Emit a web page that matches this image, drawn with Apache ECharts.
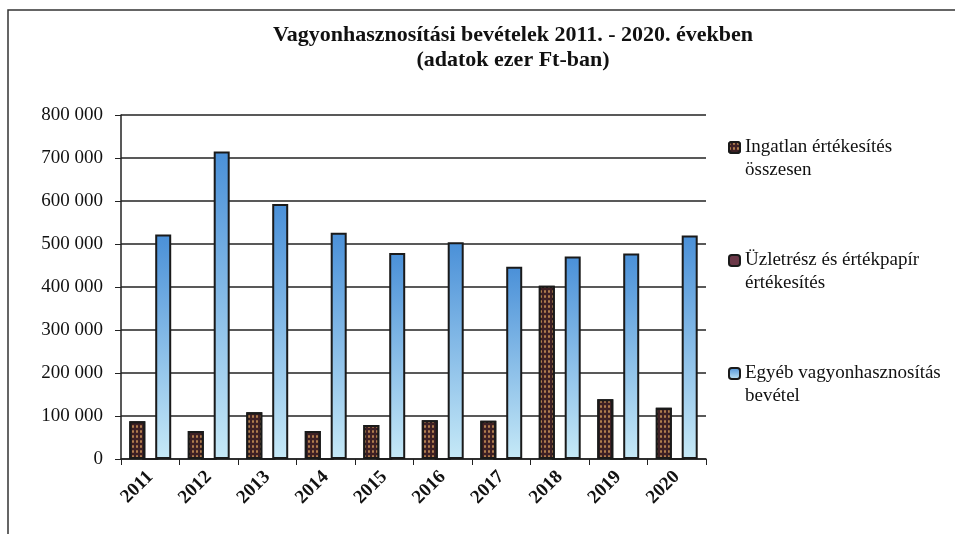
<!DOCTYPE html>
<html>
<head>
<meta charset="utf-8">
<script src="https://cdn.jsdelivr.net/npm/echarts@6/dist/echarts.min.js"></script>
<style>
  html, body { margin: 0; padding: 0; background: #fff; }
  #chart { width: 955px; height: 534px; }
</style>
</head>
<body>
<div id="chart"></div>
<script>
  // évek
  var years = ['2011', '2012', '2013', '2014', '2015', '2016', '2017', '2018', '2019', '2020']
  // ezer Ft
  var ingatlan = [88000, 65000, 109000, 65000, 79000, 90000, 89000, 403000, 139000, 119000]
  var uzletresz = [0, 0, 0, 0, 0, 0, 0, 0, 0, 0]
  var egyeb = [522000, 715000, 593000, 526000, 479000, 504000, 447000, 471000, 478000, 520000]
  var yTicks = [0, 100000, 200000, 300000, 400000, 500000, 600000, 700000, 800000]

  var serif = 'Liberation Serif, Times New Roman, serif'

  function fmt (v) {
    if (v === 0) return '0'
    var s = String(v)
    return s.slice(0, s.length - 3) + ' ' + s.slice(-3)
  }

  var chart = echarts.init(document.getElementById('chart'))
  var option = {
    backgroundColor: '#fff',
    animation: false,
    title: {
      text: 'Vagyonhasznosítási bevételek 2011. - 2020. években\n(adatok ezer Ft-ban)',
      left: 508,
      top: 18,
      textAlign: 'center',
      textStyle: {
        fontFamily: serif,
        fontWeight: 'bold',
        fontSize: 22,
        lineHeight: 25,
        color: '#111'
      }
    },
    graphic: [{
      type: 'rect',
      shape: { x: 8, y: 10, width: 960, height: 540 },
      style: { fill: 'none', stroke: '#333', lineWidth: 1.5 },
      silent: true
    }],
    legend: {
      orient: 'vertical',
      left: 728,
      top: 113,
      padding: 0,
      itemGap: 44,
      itemWidth: 11,
      itemHeight: 11,
      textStyle: {
        fontFamily: serif,
        fontSize: 19,
        lineHeight: 23,
        color: '#111'
      },
      // üres első sor, hogy az ikon az első szövegsorhoz igazodjon
      formatter: function (name) {
        var map = {
          'Ingatlan értékesítés összesen': ' \nIngatlan értékesítés\nösszesen',
          'Üzletrész és értékpapír értékesítés': ' \nÜzletrész és értékpapír\nértékesítés',
          'Egyéb vagyonhasznosítás bevétel': ' \nEgyéb vagyonhasznosítás\nbevétel'
        }
        return map[name] || name
      }
    },
    grid: {
      left: 121,
      right: 249,
      top: 115,
      bottom: 75
    },
    xAxis: {
      type: 'category',
      data: years,
      axisLine: { show: true, lineStyle: { color: '#222', width: 1.5 } },
      axisTick: { show: true, interval: 0, length: 6, lineStyle: { color: '#222' } },
      axisLabel: {
        interval: 0,
        rotate: 45,
        margin: 15,
        fontFamily: serif,
        fontWeight: 'bold',
        fontSize: 19,
        color: '#111'
      }
    },
    yAxis: {
      type: 'value',
      min: 0,
      max: 800000,
      interval: 100000,
      axisLine: { show: true, lineStyle: { color: '#222', width: 1.5 } },
      axisTick: { show: true, length: 6, lineStyle: { color: '#222' } },
      axisLabel: {
        margin: 18,
        fontFamily: serif,
        fontSize: 19,
        color: '#111',
        formatter: function (v) { return yTicks.indexOf(v) >= 0 ? fmt(v) : '' }
      },
      splitLine: { show: true, lineStyle: { color: '#222', width: 1.5 } }
    },
    series: [
      {
        name: 'Ingatlan értékesítés összesen',
        type: 'bar',
        data: ingatlan,
        barWidth: 16,
        barGap: '-19%',
        itemStyle: {
          color: '#3e2024',
          borderColor: '#1a1a1a',
          borderWidth: 2,
          decal: {
            symbol: 'rect',
            symbolSize: 0.8,
            color: 'rgba(232,170,100,0.85)',
            dashArrayX: [[2, 2]],
            dashArrayY: [3, 2],
            rotation: 0
          }
        }
      },
      {
        name: 'Üzletrész és értékpapír értékesítés',
        type: 'bar',
        data: uzletresz,
        barWidth: 16,
        barGap: '-19%',
        itemStyle: {
          color: '#6b3848',
          borderColor: '#1a1a1a',
          borderWidth: 1.5
        }
      },
      {
        name: 'Egyéb vagyonhasznosítás bevétel',
        type: 'bar',
        data: egyeb,
        barWidth: 16,
        barGap: '-19%',
        itemStyle: {
          color: new echarts.graphic.LinearGradient(0, 0, 0, 1, [
            { offset: 0, color: '#4a90d8' },
            { offset: 1, color: '#c6e9f7' }
          ]),
          borderColor: '#1a1a1a',
          borderWidth: 2
        }
      }
    ]
  }
  chart.setOption(option)
  window.addEventListener('resize', function () {
    chart.resize()
  })
</script>
</body>
</html>
